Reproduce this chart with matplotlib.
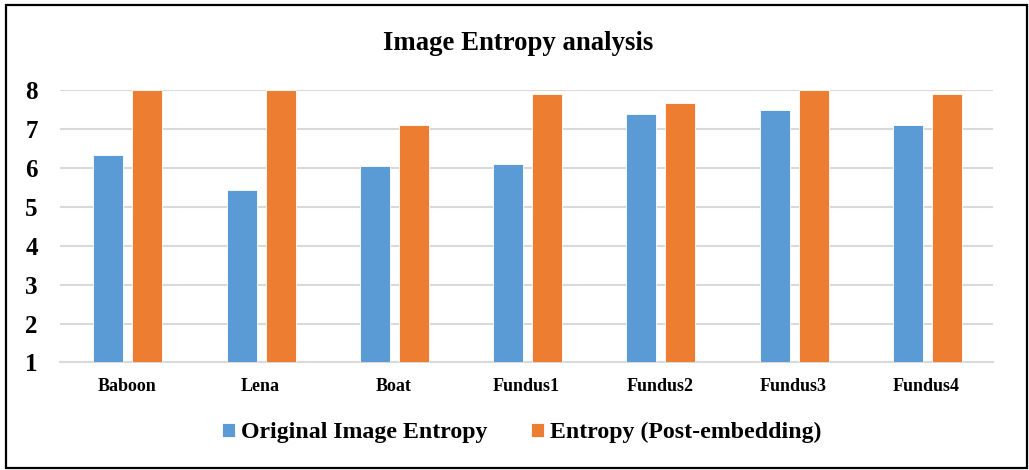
import matplotlib
matplotlib.use("Agg")
import matplotlib.pyplot as plt
import numpy as np
from matplotlib.patches import Rectangle

categories = ["Baboon", "Lena", "Boat", "Fundus1", "Fundus2", "Fundus3", "Fundus4"]
original_entropy = [6.35, 5.43, 6.05, 6.10, 7.40, 7.49, 7.11]
post_embedding_entropy = [8.00, 8.00, 7.11, 7.90, 7.68, 8.00, 7.90]
series_names = ["Original Image Entropy", "Entropy (Post-embedding)"]
y_ticks = [1, 2, 3, 4, 5, 6, 7, 8]

BLUE = "#5B9BD5"
ORANGE = "#ED7D31"
GRID = "#D9D9D9"

plt.rcParams["font.family"] = ["Liberation Serif", "DejaVu Serif"]
plt.rcParams["font.weight"] = "bold"

fig = plt.figure(figsize=(10.29, 4.70), dpi=100)
ax = fig.add_axes([0.0583, 0.229, 0.9067, 0.5795])

x = np.arange(len(categories))
width = 0.225
b1 = ax.bar(x - 0.138, original_entropy, width, color=BLUE,
            edgecolor="white", linewidth=0.6, label=series_names[0], zorder=3)
b2 = ax.bar(x + 0.155, post_embedding_entropy, width, color=ORANGE,
            edgecolor="white", linewidth=0.6, label=series_names[1], zorder=3)

ax.set_xlim(-0.5, len(categories) - 0.5)
ax.set_ylim(1, 8.01)
ax.set_yticks(y_ticks)
ax.set_yticklabels([str(t) for t in y_ticks], fontsize=18, fontweight="bold")
ax.set_xticks(x)
ax.set_xticklabels(categories, fontsize=13, fontweight="bold")
ax.tick_params(axis="both", length=0)
ax.tick_params(axis="y", pad=16)
ax.tick_params(axis="x", pad=11)

ax.yaxis.grid(True, color=GRID, linewidth=1.5, zorder=0)
ax.set_axisbelow(True)
for side in ["top", "right", "left"]:
    ax.spines[side].set_visible(False)
ax.spines["bottom"].set_color(GRID)
ax.spines["bottom"].set_linewidth(1.5)

fig.text(0.504, 0.908, "Image Entropy analysis", ha="center", va="center",
         fontsize=19.3, fontweight="bold")

leg = fig.legend(handles=[b1, b2], loc="center", bbox_to_anchor=(0.5068, 0.079),
                 ncol=2, frameon=False, handlelength=0.55,
                 handleheight=0.55, handletextpad=0.25, columnspacing=1.8,
                 prop={"weight": "bold", "size": 17.2})

fig.patches.append(Rectangle((6 / 1029, 2 / 470), 1021 / 1029, 463 / 470,
                             transform=fig.transFigure, fill=False,
                             edgecolor="black", linewidth=1.6))

fig.savefig("out.png", dpi=100, facecolor="white")
